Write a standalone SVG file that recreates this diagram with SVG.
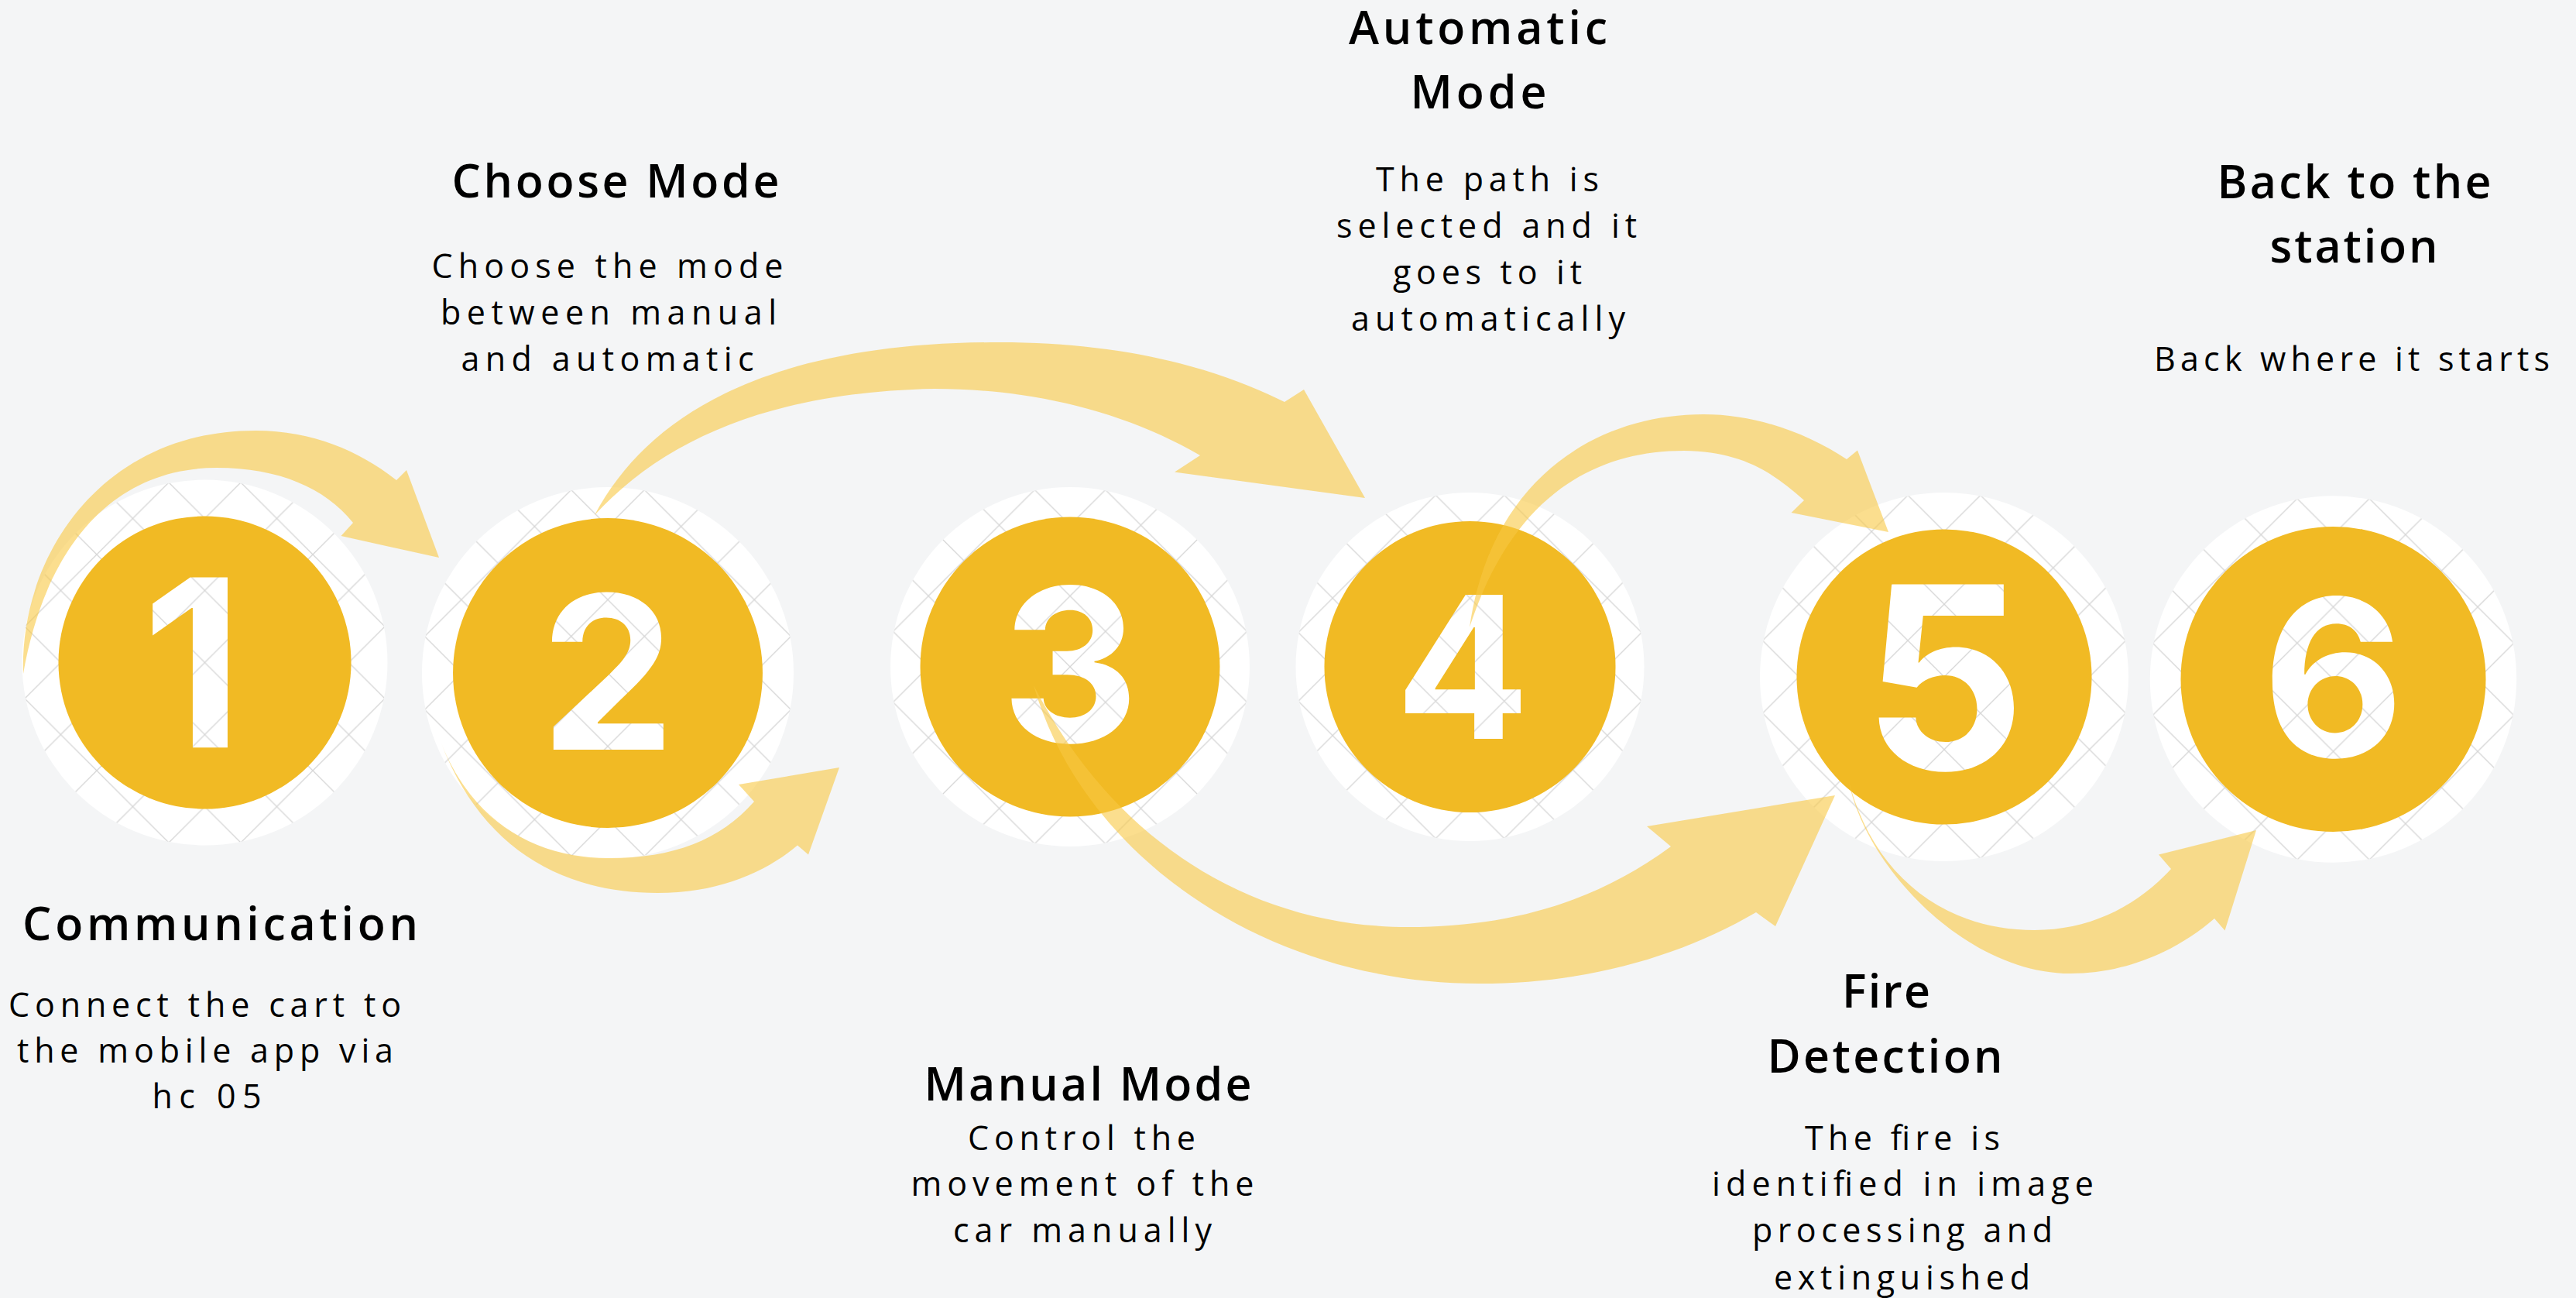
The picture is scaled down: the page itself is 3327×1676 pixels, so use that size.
<svg xmlns="http://www.w3.org/2000/svg" width="3327" height="1676" viewBox="0 0 3327 1676">
<defs>
<pattern id="lat" patternUnits="userSpaceOnUse" width="93.3" height="93.3">
<rect width="93.3" height="93.3" fill="#ffffff"/>
<path d="M-10 -10L103.3 103.3M103.3 -10L-10 103.3" stroke="#d6d6d6" stroke-width="1.3" fill="none"/>
</pattern>
<style>
.ring{fill:url(#lat)}
.disc{fill:#F1BA24}
.digit{fill:url(#lat);font-family:Inter,"Liberation Sans",sans-serif;font-weight:700;text-anchor:middle}
.title{fill:#000000;font-family:"Open Sans","Liberation Sans",sans-serif;font-weight:600;font-size:59px;text-anchor:middle}
.body{fill:#000000;font-family:"Open Sans","Liberation Sans",sans-serif;font-weight:400;font-size:43px;text-anchor:middle}
.arrow{fill:#F9C842;fill-opacity:0.6}
</style>
</defs>
<rect width="3327" height="1676" fill="#F4F5F6"/>

<g id="node1">
<g transform="translate(264.5 855.5) scale(0.997)">
<circle class="ring" r="236.7"/>
<circle class="disc" r="189.6"/>
<text class="digit" x="-16" y="110" font-size="303">1</text>
</g>
<text class="title" x="284.5" y="1213.5" textLength="511">Communication</text>
<text class="body" x="264.5" y="1313" textLength="507">Connect the cart to</text>
<text class="body" x="265" y="1372" textLength="486">the mobile app via</text>
<text class="body" x="267" y="1431" textLength="141">hc 05</text>
</g>

<g id="node2">
<g transform="translate(785 869) scale(1.014)">
<circle class="ring" r="236.7"/>
<circle class="disc" r="197.2"/>
<text class="digit" x="0" y="97.6" font-size="272">2</text>
</g>
<text class="title" x="795" y="255" textLength="423">Choose Mode</text>
<text class="body" x="784.5" y="359" textLength="454">Choose the mode</text>
<text class="body" x="786" y="419" textLength="434">between manual</text>
<text class="body" x="784.6" y="479" textLength="378">and automatic</text>
</g>

<g id="node3">
<g transform="translate(1382 861) scale(0.98)">
<circle class="ring" r="236.7"/>
<circle class="disc" r="197.4"/>
<text class="digit" x="0" y="99" font-size="281">3</text>
</g>
<text class="title" x="1405" y="1420.7" textLength="423">Manual Mode</text>
<text class="body" x="1397" y="1484.5" textLength="294">Control the</text>
<text class="body" x="1398" y="1544" textLength="443">movement of the</text>
<text class="body" x="1398" y="1604" textLength="334">car manually</text>
</g>

<g id="node4">
<g transform="translate(1898.5 861) scale(0.9506)">
<circle class="ring" r="236.7"/>
<circle class="disc" r="197.8"/>
<text class="digit" x="-10" y="98" font-size="269">4</text>
</g>
<text class="title" x="1909" y="57.3" textLength="334">Automatic</text>
<text class="title" x="1909.5" y="140" textLength="176">Mode</text>
<text class="body" x="1921" y="247" textLength="288">The path is</text>
<text class="body" x="1920" y="306.7" textLength="388">selected and it</text>
<text class="body" x="1921" y="366.7" textLength="244">goes to it</text>
<text class="body" x="1922" y="426.7" textLength="354">automatically</text>
</g>

<g id="node5">
<g transform="translate(2511 874) scale(1.0055)">
<circle class="ring" r="236.7"/>
<circle class="disc" r="189.5"/>
<text class="digit" x="0" y="119" font-size="327">5</text>
</g>
<text class="title" x="2436" y="1301" textLength="114">Fire</text>
<text class="title" x="2434.5" y="1385" textLength="304">Detection</text>
<text class="body" x="2457" y="1485" textLength="252">The fire is</text>
<text class="body" x="2457.5" y="1544" textLength="493">identified in image</text>
<text class="body" x="2457" y="1604" textLength="388">processing and</text>
<text class="body" x="2456.5" y="1665" textLength="331">extinguished</text>
</g>

<g id="node6">
<g transform="translate(3013.5 877)">
<circle class="ring" r="236.7"/>
<circle class="disc" r="197"/>
<text class="digit" x="0" y="100" font-size="282">6</text>
</g>
<text class="title" x="3040.5" y="256" textLength="354">Back to the</text>
<text class="title" x="3040" y="339" textLength="217">station</text>
<text class="body" x="3037.5" y="479.3" textLength="511">Back where it starts</text>
</g>

<g id="connectors">
<path id="a12" class="arrow" d="M30 870C25 720 130 556 330 556C405 556 465 583 512 620L525 607L567 720L440.5 692L456 675C420 630 360 604 280 604C150 604 60 700 30 870Z"/>
<path id="a24" class="arrow" d="M768 665C840 530 1000 442 1290 442C1440 442 1560 470 1659 519L1684 503L1763 643L1517 609.5L1550 588C1450 530 1330 502 1207 502C1000 506 860 565 768 665Z"/>
<path id="a23" class="arrow" d="M570 960C620 1090 720 1153 849 1153C930 1153 990 1125 1030 1091.5L1044 1103.6L1084 991L954 1013L974 1035C930 1085 870 1108 786 1108C690 1108 610 1060 570 960Z"/>
<path id="a35" class="arrow" d="M1335 885C1400 1110 1640 1270 1911 1270C2050 1270 2170 1235 2268 1178L2293 1196L2370 1027L2127 1067L2158 1093C2060 1165 1950 1197 1819 1197C1620 1197 1440 1090 1335 885Z"/>
<path id="a45" class="arrow" d="M1898 810C1925 620 2060 535 2200 535C2270 535 2335 560 2385 593L2399 581.6L2439 687L2313.6 662L2330 646C2290 610 2250 583 2175 582C2050 582 1950 650 1898 810Z"/>
<path id="a56" class="arrow" d="M2388 1010C2410 1120 2540 1257 2674 1257C2750 1257 2815 1225 2860 1186L2873.5 1201.5L2914 1072L2788 1103.6L2804 1122C2760 1170 2700 1201 2628 1201C2510 1201 2420 1130 2388 1010Z"/>
</g>
</svg>
